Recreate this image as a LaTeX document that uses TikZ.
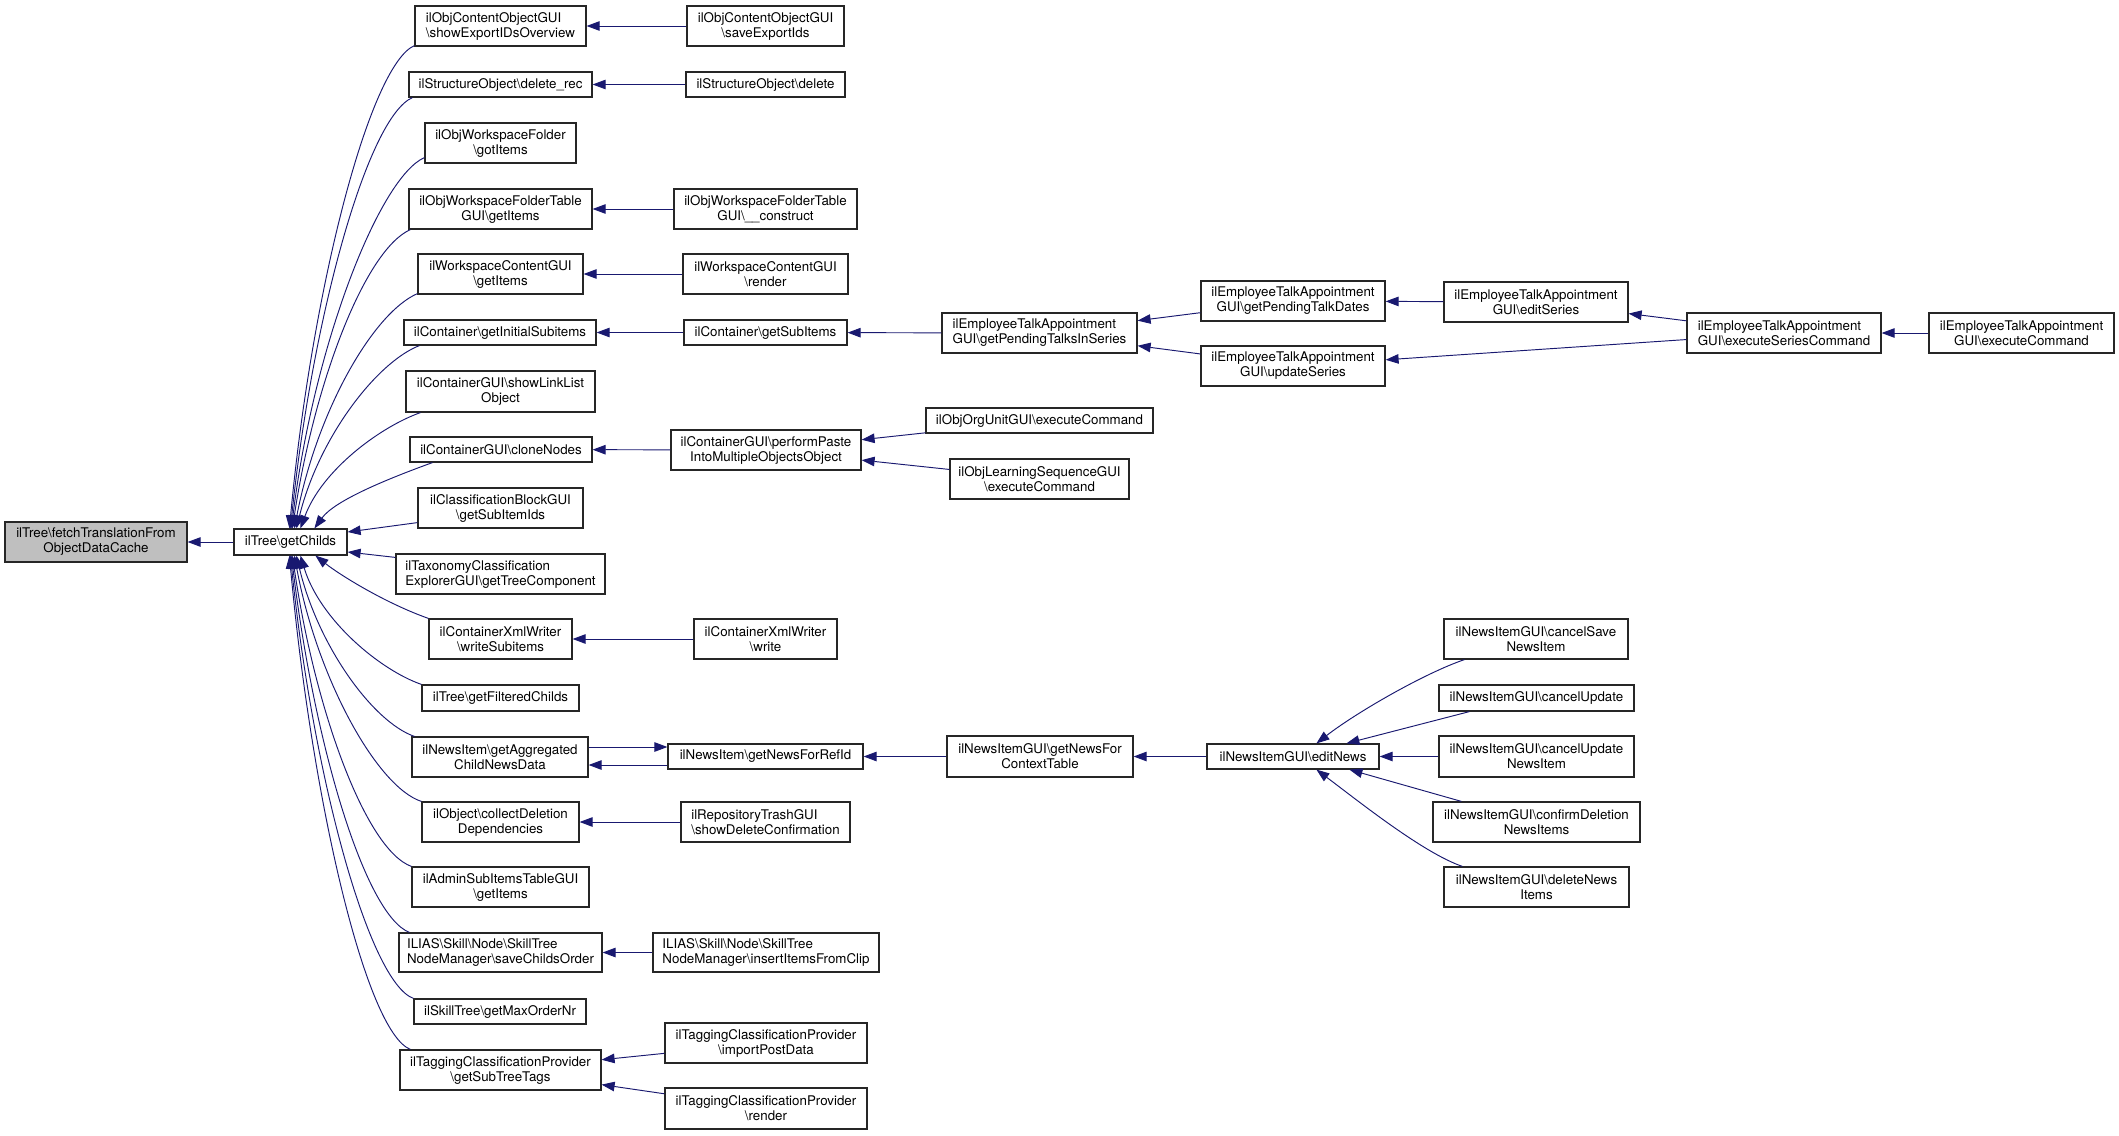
\documentclass[tikz,border=0pt]{standalone}
\usepackage{fontspec}
\setmainfont{TeX Gyre Heros}
\usetikzlibrary{arrows.meta,calc}
\definecolor{edgeblue}{HTML}{191970}
\definecolor{rootgray}{HTML}{BFBFBF}
\newcommand{\bs}{\textbackslash}
\newcommand{\dxbox}[7]{\node[dxboxst,#6,minimum width={(#4)-(#2)},minimum height={(#5)-(#3)}] (#1) at ({((#2)+(#4))/2},{((#3)+(#5))/2}) {#7};}
\begin{document}
\begin{tikzpicture}[x=1pt,y=-1pt,
  dxboxst/.style={draw=black!85,line width=1.2pt,fill=white,inner sep=0pt,align=center,font=\fontsize{13.33}{15}\selectfont},
  dxarr/.style={draw=edgeblue,line width=0.95pt,-{Triangle[length=13pt,width=9.5pt,fill=edgeblue]}}]
\useasboundingbox (0,0) rectangle (2119,1135);
% root and getChilds
\dxbox{root}{5}{522}{187}{562}{fill=rootgray}{ilTree\bs fetchTranslationFrom\\ObjectDataCache}
\dxbox{gc}{234}{529}{347}{555}{}{ilTree\bs getChilds}
% column 2
\dxbox{n1}{415}{6}{586}{46}{align=left}{ilObjContentObjectGUI\\\bs showExportIDsOverview}
\dxbox{n2}{409}{72}{592}{97}{}{ilStructureObject\bs delete\_rec}
\dxbox{n3}{425}{123}{576}{163}{}{ilObjWorkspaceFolder\\\bs gotItems}
\dxbox{n4}{409}{189}{592}{229}{}{ilObjWorkspaceFolderTable\\GUI\bs getItems}
\dxbox{n5}{418}{254}{583}{294}{}{ilWorkspaceContentGUI\\\bs getItems}
\dxbox{n6}{404}{320}{596}{345}{}{ilContainer\bs getInitialSubitems}
\dxbox{n7}{406}{371}{595}{412}{}{ilContainerGUI\bs showLinkList\\Object}
\dxbox{n8}{410}{437}{592}{462}{}{ilContainerGUI\bs cloneNodes}
\dxbox{n9}{418}{488}{583}{528}{}{ilClassificationBlockGUI\\\bs getSubItemIds}
\dxbox{n10}{396}{554}{605}{594}{align=left}{ilTaxonomyClassification\\ExplorerGUI\bs getTreeComponent}
\dxbox{n11}{429}{619}{572}{659}{}{ilContainerXmlWriter\\\bs writeSubitems}
\dxbox{n12}{422}{685}{579}{711}{}{ilTree\bs getFilteredChilds}
\dxbox{n13}{412}{737}{588}{777}{}{ilNewsItem\bs getAggregated\\ChildNewsData}
\dxbox{n14}{422}{802}{579}{842}{}{ilObject\bs collectDeletion\\Dependencies}
\dxbox{n15}{412}{867}{589}{907}{}{ilAdminSubItemsTableGUI\\\bs getItems}
\dxbox{n16}{399}{933}{602}{972}{align=left}{ILIAS\bs Skill\bs Node\bs SkillTree\\NodeManager\bs saveChildsOrder}
\dxbox{n17}{414}{999}{586}{1024}{}{ilSkillTree\bs getMaxOrderNr}
\dxbox{n18}{400}{1050}{601}{1090}{}{ilTaggingClassificationProvider\\\bs getSubTreeTags}
% column 3
\dxbox{saveExp}{687}{6}{844}{46}{}{ilObjContentObjectGUI\\\bs saveExportIds}
\dxbox{soDel}{686}{72}{845}{97}{}{ilStructureObject\bs delete}
\dxbox{construct}{674}{189}{857}{229}{}{ilObjWorkspaceFolderTable\\GUI\bs \_\_construct}
\dxbox{wscRender}{683}{254}{848}{294}{}{ilWorkspaceContentGUI\\\bs render}
\dxbox{getSub}{684}{320}{847}{345}{}{ilContainer\bs getSubItems}
\dxbox{paste}{671}{430}{861}{470}{}{ilContainerGUI\bs performPaste\\IntoMultipleObjectsObject}
\dxbox{write}{694}{619}{837}{659}{}{ilContainerXmlWriter\\\bs write}
\dxbox{newsRef}{668}{744}{863}{769}{}{ilNewsItem\bs getNewsForRefId}
\dxbox{trash}{681}{802}{850}{842}{align=left}{ilRepositoryTrashGUI\\\bs showDeleteConfirmation}
\dxbox{clip}{653}{933}{879}{972}{align=left}{ILIAS\bs Skill\bs Node\bs SkillTree\\NodeManager\bs insertItemsFromClip}
\dxbox{importPost}{665}{1023}{867}{1063}{}{ilTaggingClassificationProvider\\\bs importPostData}
\dxbox{tcpRender}{665}{1088}{867}{1129}{}{ilTaggingClassificationProvider\\\bs render}
% column 4
\dxbox{pendSeries}{942}{313}{1137}{353}{align=left}{ilEmployeeTalkAppointment\\GUI\bs getPendingTalksInSeries}
\dxbox{orgUnit}{926}{408}{1153}{433}{}{ilObjOrgUnitGUI\bs executeCommand}
\dxbox{learnSeq}{950}{459}{1129}{499}{}{ilObjLearningSequenceGUI\\\bs executeCommand}
\dxbox{newsCtx}{947}{736}{1133}{777}{}{ilNewsItemGUI\bs getNewsFor\\ContextTable}
% column 5
\dxbox{pendDates}{1201}{281}{1385}{321}{}{ilEmployeeTalkAppointment\\GUI\bs getPendingTalkDates}
\dxbox{updSeries}{1201}{346}{1385}{386}{}{ilEmployeeTalkAppointment\\GUI\bs updateSeries}
\dxbox{editNews}{1207}{744}{1379}{769}{}{ilNewsItemGUI\bs editNews}
% column 6
\dxbox{editSeries}{1444}{282}{1628}{322}{}{ilEmployeeTalkAppointment\\GUI\bs editSeries}
\dxbox{cSave}{1444}{619}{1628}{659}{}{ilNewsItemGUI\bs cancelSave\\NewsItem}
\dxbox{cUpd}{1439}{685}{1634}{711}{}{ilNewsItemGUI\bs cancelUpdate}
\dxbox{cUpdNI}{1439}{736}{1634}{777}{}{ilNewsItemGUI\bs cancelUpdate\\NewsItem}
\dxbox{confDel}{1433}{802}{1640}{842}{}{ilNewsItemGUI\bs confirmDeletion\\NewsItems}
\dxbox{delNews}{1444}{867}{1629}{907}{}{ilNewsItemGUI\bs deleteNews\\Items}
% column 7 and 8
\dxbox{execSeries}{1687}{313}{1881}{353}{align=left}{ilEmployeeTalkAppointment\\GUI\bs executeSeriesCommand}
\dxbox{execCmd}{1929}{313}{2114}{353}{}{ilEmployeeTalkAppointment\\GUI\bs executeCommand}

% edges
\draw[dxarr] (gc) -- (root);
% upper fan into getChilds
\draw[dxarr] ($(n1.south west)+(0,-1)$) .. controls (370,65) and (312,287) .. ($(gc.north west)+(56,0)$);
\draw[dxarr] ($(n2.south west)+(4,0)$) .. controls (368,117) and (313,313) .. ($(gc.north west)+(57,0)$);
\draw[dxarr] ($(n3.south west)+(0,-6)$) .. controls (380,177) and (314,343) .. ($(gc.north west)+(58,0)$);
\draw[dxarr] ($(n4.south west)+(2,0)$) .. controls (366,249) and (315,379) .. ($(gc.north west)+(59,0)$);
\draw[dxarr] ($(n5.south west)+(0,-1)$) .. controls (373,313) and (317,411) .. ($(gc.north west)+(61,0)$);
\draw[dxarr] ($(n6.south west)+(16,0)$) .. controls (377,362) and (319,437) .. ($(gc.north west)+(63,0)$);
\draw[dxarr] ($(n7.south west)+(15,0)$) .. controls (380,427) and (322,470) .. ($(gc.north west)+(67,0)$);
\draw[dxarr] ($(n8.south west)+(23,0)$) .. controls (390,478) and (335,500) .. ($(gc.north west)+(81,0)$);
\draw[dxarr] ($(n9.south west)+(0,-6)$) -- ($(gc.east)+(0,-10)$);
\draw[dxarr] ($(n10.north west)+(0,4)$) -- ($(gc.east)+(0,10)$);
% lower fan into getChilds
\draw[dxarr] (n11.north west) .. controls (385,603) and (340,575) .. ($(gc.south west)+(82,0)$);
\draw[dxarr] (n12.north west) .. controls (380,670) and (320,620) .. ($(gc.south west)+(67,0)$);
\draw[dxarr] ($(n13.north west)+(3,0)$) .. controls (373,722) and (318,646) .. ($(gc.south west)+(63,0)$);
\draw[dxarr] (n14.north west) .. controls (377,787) and (317,678) .. ($(gc.south west)+(61,0)$);
\draw[dxarr] (n15.north west) .. controls (366,850) and (315,711) .. ($(gc.south west)+(59,0)$);
\draw[dxarr] ($(n16.north west)+(11,0)$) .. controls (365,915) and (314,744) .. ($(gc.south west)+(58,0)$);
\draw[dxarr] (n17.north west) .. controls (369,982) and (313,777) .. ($(gc.south west)+(57,0)$);
\draw[dxarr] ($(n18.north west)+(11,0)$) .. controls (366,1032) and (312,802) .. ($(gc.south west)+(56,0)$);
% column 3 to column 2
\draw[dxarr] (saveExp) -- (n1);
\draw[dxarr] (soDel) -- (n2);
\draw[dxarr] (construct) -- (n4);
\draw[dxarr] (wscRender) -- (n5);
\draw[dxarr] (getSub) -- (n6);
\draw[dxarr] (paste) -- (n8);
\draw[dxarr] (write) -- (n11);
\draw[dxarr] ($(n13.east)+(0,-10)$) -- ($(newsRef.west)+(0,-9.5)$);
\draw[dxarr] ($(newsRef.west)+(0,8.5)$) -- ($(n13.east)+(0,8)$);
\draw[dxarr] (trash) -- (n14);
\draw[dxarr] (clip) -- (n16);
\draw[dxarr] (importPost) -- (n18);
\draw[dxarr] (tcpRender) -- (n18);
% further columns
\draw[dxarr] (pendSeries) -- (getSub);
\draw[dxarr] (orgUnit) -- (paste);
\draw[dxarr] (learnSeq) -- (paste);
\draw[dxarr] (newsCtx) -- (newsRef);
\draw[dxarr] (pendDates) -- (pendSeries);
\draw[dxarr] (updSeries) -- (pendSeries);
\draw[dxarr] (editNews) -- (newsCtx);
\draw[dxarr] (editSeries) -- (pendDates);
\draw[dxarr] (execSeries) -- (editSeries);
\draw[dxarr] (execSeries) -- (updSeries);
\draw[dxarr] (execCmd) -- (execSeries);
% editNews fan
\draw[dxarr] ($(cSave.south west)+(21,0)$) .. controls (1425,673) and (1357,712) .. ($(editNews.north west)+(110,0)$);
\draw[dxarr] ($(cUpd.south west)+(31,0)$) -- ($(editNews.north west)+(140,0)$);
\draw[dxarr] (cUpdNI) -- (editNews);
\draw[dxarr] ($(confDel.north west)+(29,0)$) -- ($(editNews.south west)+(143,0)$);
\draw[dxarr] ($(delNews.north west)+(19,0)$) .. controls (1423,853) and (1357,800) .. ($(editNews.south west)+(110,0)$);
\end{tikzpicture}
\end{document}
